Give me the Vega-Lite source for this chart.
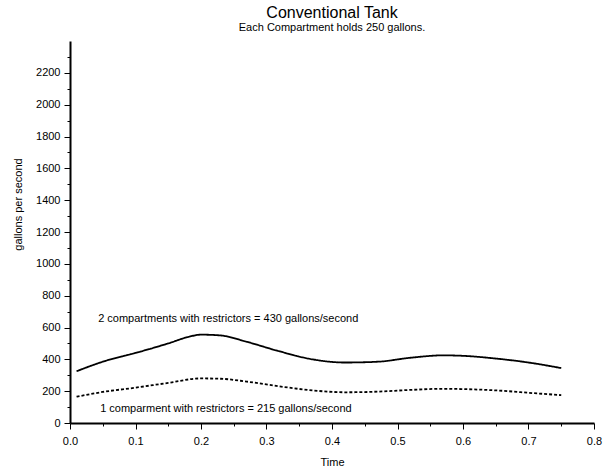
{
  "$schema": "https://vega.github.io/schema/vega-lite/v6.json",
  "autosize": "none",
  "width": 524,
  "height": 382,
  "padding": {"left": 70, "top": 41, "right": 12, "bottom": 49},
  "background": "white",
  "config": {
    "font": "Liberation Sans",
    "view": {"stroke": null},
    "axis": {"grid": false, "domainColor": "black", "tickColor": "black", "labelColor": "black", "titleColor": "black", "labelFont": "Liberation Sans", "titleFont": "Liberation Sans", "labelFontSize": 11, "titleFontSize": 11, "titleFontWeight": "normal", "labelOverlap": false, "labelFlush": false}
  },
  "title": {
    "text": "Conventional Tank",
    "subtitle": "Each Compartment holds 250 gallons.",
    "fontSize": 16,
    "fontWeight": "normal",
    "subtitleFontSize": 11,
    "color": "black",
    "subtitleColor": "black",
    "font": "Liberation Sans",
    "subtitleFont": "Liberation Sans",
    "anchor": "middle",
    "offset": 8,
    "subtitlePadding": 1
  },
  "datasets": {
    "flow": [
      {"time": 0.01, "gps": 325, "series": "2 compartments"},
      {"time": 0.05, "gps": 385, "series": "2 compartments"},
      {"time": 0.1, "gps": 440, "series": "2 compartments"},
      {"time": 0.15, "gps": 500, "series": "2 compartments"},
      {"time": 0.18, "gps": 540, "series": "2 compartments"},
      {"time": 0.2, "gps": 555, "series": "2 compartments"},
      {"time": 0.23, "gps": 550, "series": "2 compartments"},
      {"time": 0.27, "gps": 510, "series": "2 compartments"},
      {"time": 0.32, "gps": 450, "series": "2 compartments"},
      {"time": 0.37, "gps": 400, "series": "2 compartments"},
      {"time": 0.42, "gps": 380, "series": "2 compartments"},
      {"time": 0.47, "gps": 385, "series": "2 compartments"},
      {"time": 0.52, "gps": 410, "series": "2 compartments"},
      {"time": 0.57, "gps": 425, "series": "2 compartments"},
      {"time": 0.6, "gps": 422, "series": "2 compartments"},
      {"time": 0.65, "gps": 405, "series": "2 compartments"},
      {"time": 0.7, "gps": 380, "series": "2 compartments"},
      {"time": 0.75, "gps": 345, "series": "2 compartments"},
      {"time": 0.01, "gps": 165, "series": "1 compartment"},
      {"time": 0.05, "gps": 195, "series": "1 compartment"},
      {"time": 0.1, "gps": 222, "series": "1 compartment"},
      {"time": 0.15, "gps": 252, "series": "1 compartment"},
      {"time": 0.2, "gps": 280, "series": "1 compartment"},
      {"time": 0.23, "gps": 278, "series": "1 compartment"},
      {"time": 0.27, "gps": 260, "series": "1 compartment"},
      {"time": 0.32, "gps": 230, "series": "1 compartment"},
      {"time": 0.37, "gps": 205, "series": "1 compartment"},
      {"time": 0.42, "gps": 193, "series": "1 compartment"},
      {"time": 0.47, "gps": 197, "series": "1 compartment"},
      {"time": 0.52, "gps": 208, "series": "1 compartment"},
      {"time": 0.57, "gps": 215, "series": "1 compartment"},
      {"time": 0.6, "gps": 213, "series": "1 compartment"},
      {"time": 0.65, "gps": 205, "series": "1 compartment"},
      {"time": 0.7, "gps": 190, "series": "1 compartment"},
      {"time": 0.75, "gps": 175, "series": "1 compartment"}
    ],
    "notes": [
      {"time": 0.043, "gps": 655, "label": "2 compartments with restrictors = 430 gallons/second"},
      {"time": 0.046, "gps": 88, "label": "1 comparment with restrictors = 215 gallons/second"}
    ]
  },
  "layer": [
    {
      "data": {"name": "flow"},
      "mark": {"type": "line", "color": "black", "interpolate": "monotone"},
      "encoding": {
        "x": {"field": "time", "type": "quantitative", "scale": {"domain": [0, 0.8], "nice": false}, "axis": {"title": "Time", "tickCount": 40, "values": [0, 0.05, 0.1, 0.15, 0.2, 0.25, 0.3, 0.35, 0.4, 0.45, 0.5, 0.55, 0.6, 0.65, 0.7, 0.75, 0.8], "format": ".1f", "labelOverlap": false, "labelExpr": "round(datum.value * 20) % 2 == 0 ? datum.label : ''", "domainWidth": 2, "tickSize": {"condition": {"test": "round(datum.value * 20) % 2 == 0", "value": 6}, "value": 3}, "labelPadding": 6, "titlePadding": 10}},
        "y": {"field": "gps", "type": "quantitative", "scale": {"domain": [0, 2400], "nice": false}, "axis": {"title": "gallons per second", "tickCount": 40, "values": [0, 100, 200, 300, 400, 500, 600, 700, 800, 900, 1000, 1100, 1200, 1300, 1400, 1500, 1600, 1700, 1800, 1900, 2000, 2100, 2200, 2300], "format": "d", "labelOverlap": false, "labelExpr": "datum.value % 200 == 0 ? datum.label : ''", "domainWidth": 2, "tickSize": {"condition": {"test": "datum.value % 200 == 0", "value": 6}, "value": 3}, "labelPadding": 4, "titleX": -47, "titleY": 163}},
        "detail": {"field": "series"},
        "strokeDash": {"field": "series", "type": "nominal", "scale": {"domain": ["2 compartments", "1 compartment"], "range": [[1, 0], [3, 2]]}, "legend": null},
        "strokeWidth": {"field": "series", "type": "nominal", "scale": {"domain": ["2 compartments", "1 compartment"], "range": [1.8, 1.8]}, "legend": null}
      }
    },
    {
      "data": {"name": "notes"},
      "mark": {"type": "text", "align": "left", "baseline": "middle", "fontSize": 11, "font": "Liberation Sans", "color": "black"},
      "encoding": {
        "x": {"field": "time", "type": "quantitative"},
        "y": {"field": "gps", "type": "quantitative"},
        "text": {"field": "label"}
      }
    }
  ]
}
